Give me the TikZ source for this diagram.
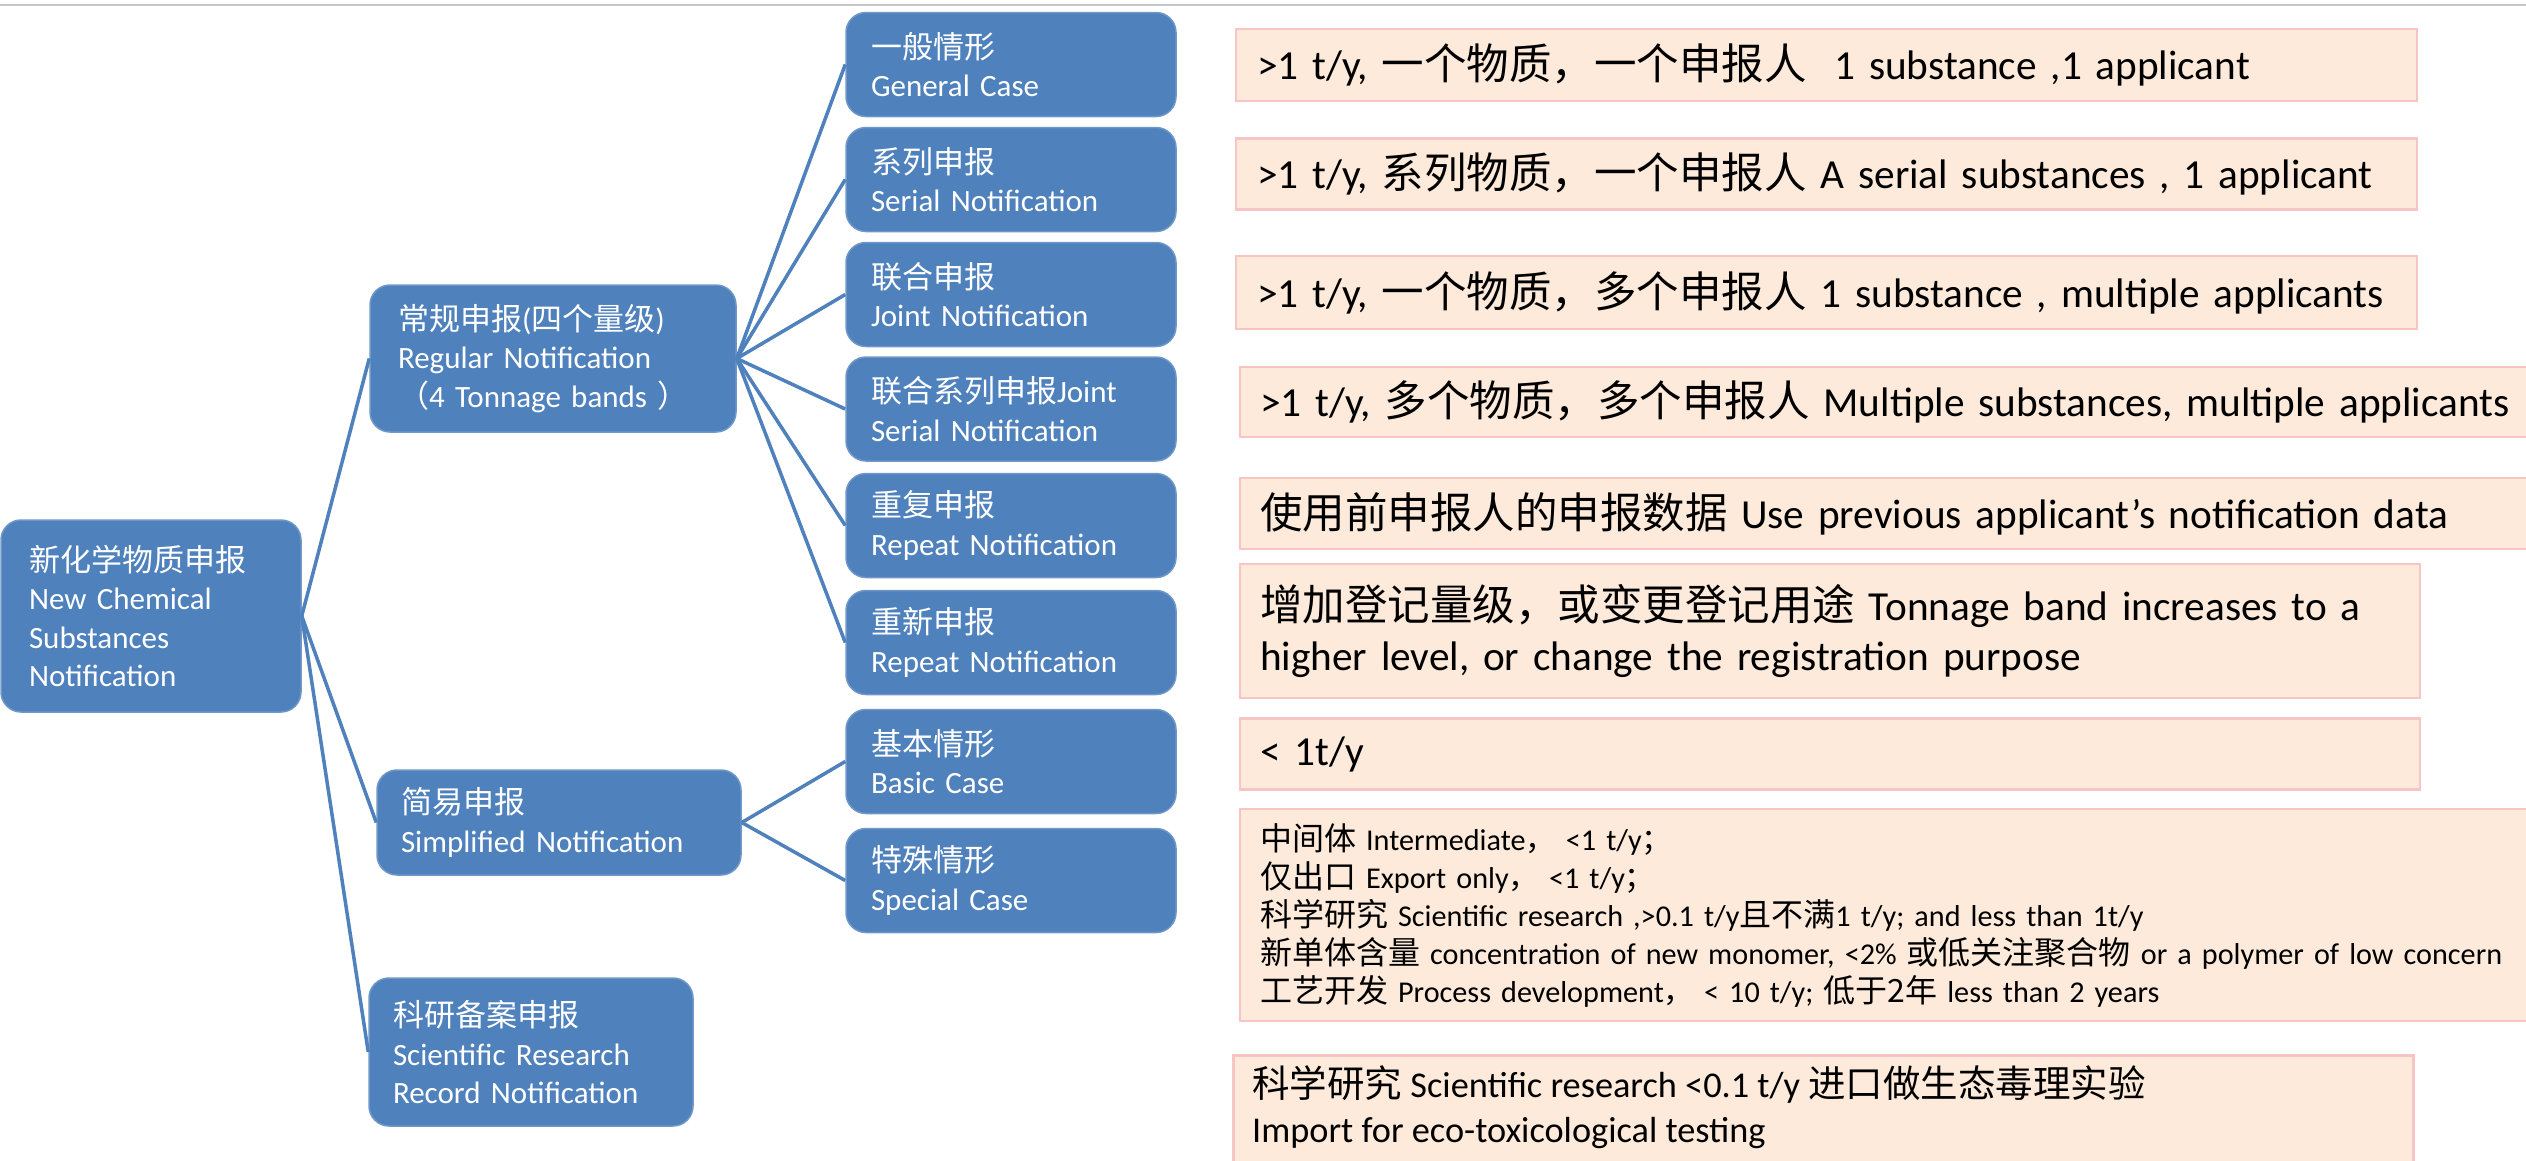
\documentclass[tikz,border=0pt]{standalone}
\usepackage{fontspec}
\setmainfont{Carlito}
\newfontfamily\cjk{Noto Sans CJK SC}
\newcommand\zhs[1]{{\cjk #1}}
\definecolor{nblue}{HTML}{4F81BD}
\definecolor{nblueb}{HTML}{6F97C8}
\definecolor{peach}{HTML}{FDEADA}
\definecolor{pinkb}{HTML}{F7C6C4}
\begin{document}
\begin{tikzpicture}[x=1pt,y=-1pt,
  bbox/.style={fill=nblue, draw=nblueb, line width=1.5pt, rounded corners=20pt, text=white, align=left, inner ysep=0pt, font=\fontsize{31}{38.5}\selectfont},
  pbox/.style={fill=peach, draw=pinkb, line width=2.5pt, align=left, inner ysep=0pt, text=black, font=\fontsize{41.3}{50}\selectfont},
  conn/.style={draw=nblue, line width=3.5pt},
  lvltwo/.style={bbox, text width=280pt, inner xsep=25pt, minimum height=104pt},
  zbig/.style={},
]
\useasboundingbox (0,0) rectangle (2526,1160);
\fill[white] (0,0) rectangle (2526,1160);
\draw[black!22, line width=2pt] (0,5) -- (2526,5);

% first column
\node[bbox, text width=244pt, inner xsep=28pt, minimum height=192pt] (root) at (151,616)
  {\zhs{新化学物质申报}\\New Chemical\\Substances\\Notification};

% second column
\node[bbox, text width=310pt, inner xsep=28pt, minimum height=147pt] (reg) at (553,358.5)
  {\zhs{常规申报}(\zhs{四个量级})\\Regular Notification\\\zhs{（}4 Tonnage bands \zhs{）}};
\node[bbox, text width=316pt, inner xsep=24pt, minimum height=105pt] (simp) at (559,822.5)
  {\zhs{简易申报}\\Simplified Notification};
\node[bbox, text width=276pt, inner xsep=24pt, minimum height=148pt] (sci) at (531,1052)
  {\zhs{科研备案申报}\\Scientific Research\\Record Notification};

% third column
\node[lvltwo] (gen) at (1011,64.5) {\zhs{一般情形}\\General Case};
\node[lvltwo] (ser) at (1011,179.5) {\zhs{系列申报}\\Serial Notification};
\node[lvltwo] (joi) at (1011,294.5) {\zhs{联合申报}\\Joint Notification};
\node[lvltwo] (jser) at (1011,409) {\zhs{联合系列申报}Joint\\Serial Notification};
\node[lvltwo] (rep) at (1011,525.5) {\zhs{重复申报}\\Repeat Notification};
\node[lvltwo] (renew) at (1011,642.5) {\zhs{重新申报}\\Repeat Notification};
\node[lvltwo] (bas) at (1011,761.5) {\zhs{基本情形}\\Basic Case};
\node[lvltwo] (spe) at (1011,880.5) {\zhs{特殊情形}\\Special Case};

% descriptions
\node[pbox, text width=1139pt, inner xsep=21pt, minimum height=72pt] (d1) at (1826.5,65)
  {>1 t/y, {\fontsize{42.5}{50}\selectfont\zhs{一个物质，一个申报人}}~ 1 substance ,1 applicant};
\node[pbox, text width=1139pt, inner xsep=21pt, minimum height=71pt] (d2) at (1826.5,174)
  {>1 t/y, {\fontsize{42.5}{50}\selectfont\zhs{系列物质，一个申报人}} A serial substances , 1 applicant};
\node[pbox, text width=1139pt, inner xsep=21pt, minimum height=73pt] (d3) at (1826.5,292.5)
  {>1 t/y, {\fontsize{42.5}{50}\selectfont\zhs{一个物质，多个申报人}} 1 substance , multiple applicants};
\node[pbox, text width=1280pt, inner xsep=20pt, minimum height=70pt] (d4) at (1900,402)
  {>1 t/y, {\fontsize{42.5}{50}\selectfont\zhs{多个物质，多个申报人}} Multiple substances, multiple applicants};
\node[pbox, text width=1280pt, inner xsep=20pt, minimum height=71pt] (d5) at (1900,513.5)
  {{\fontsize{42.5}{50}\selectfont\zhs{使用前申报人的申报数据}} Use previous applicant’s notification data};
\node[pbox, text width=1140pt, inner xsep=20pt, minimum height=134pt] (d6) at (1830,631)
  {{\fontsize{42.5}{50}\selectfont\zhs{增加登记量级，或变更登记用途}} Tonnage band increases to a\\higher level, or change the registration purpose};
\node[pbox, text width=1140pt, inner xsep=20pt, minimum height=71pt] (d7) at (1830,754)
  {< 1t/y};
\node[pbox, text width=1280pt, inner xsep=20pt, minimum height=212pt, font=\fontsize{30.2}{38}\selectfont] (d8) at (1900,915)
  {{\fontsize{32}{38}\selectfont\zhs{中间体}} Intermediate\zhs{，} <1 t/y\zhs{；}\\
   {\fontsize{32}{38}\selectfont\zhs{仅出口}} Export only\zhs{，} <1 t/y\zhs{；}\\
   {\fontsize{32}{38}\selectfont\zhs{科学研究}} Scientific research ,>0.1 t/y{\fontsize{32}{38}\selectfont\zhs{且不满}}1 t/y; and less than 1t/y\\
   {\fontsize{32}{38}\selectfont\zhs{新单体含量}} concentration of new monomer, <2\% {\fontsize{32}{38}\selectfont\zhs{或低关注聚合物}} or a polymer of low concern\\
   {\fontsize{32}{38}\selectfont\zhs{工艺开发}} Process development\zhs{，} < 10 t/y; {\fontsize{32}{38}\selectfont\zhs{低于2年}} less than 2 years};
\node[pbox, minimum width=1180pt, minimum height=160pt, anchor=north west] (d9) at (1232,1054) {};
\node[anchor=north west, align=left, inner sep=0pt, font=\fontsize{36.3}{45.5}\selectfont] (d9t) at (1252,1065)
  {{\fontsize{37.5}{45.5}\selectfont\zhs{科学研究}} Scientific research <0.1 t/y {\fontsize{37.5}{45.5}\selectfont\zhs{进口做生态毒理实验}}\\Import for eco-toxicological testing};

% connectors
\draw[conn] (root.east) -- (reg.west);
\draw[conn] (root.east) -- (simp.west);
\draw[conn] (root.east) -- (sci.west);
\foreach \c in {gen,ser,joi,jser,rep,renew}
  \draw[conn] (reg.east) -- (\c.west);
\draw[conn] (simp.east) -- (bas.west);
\draw[conn] (simp.east) -- (spe.west);
\end{tikzpicture}
\end{document}
